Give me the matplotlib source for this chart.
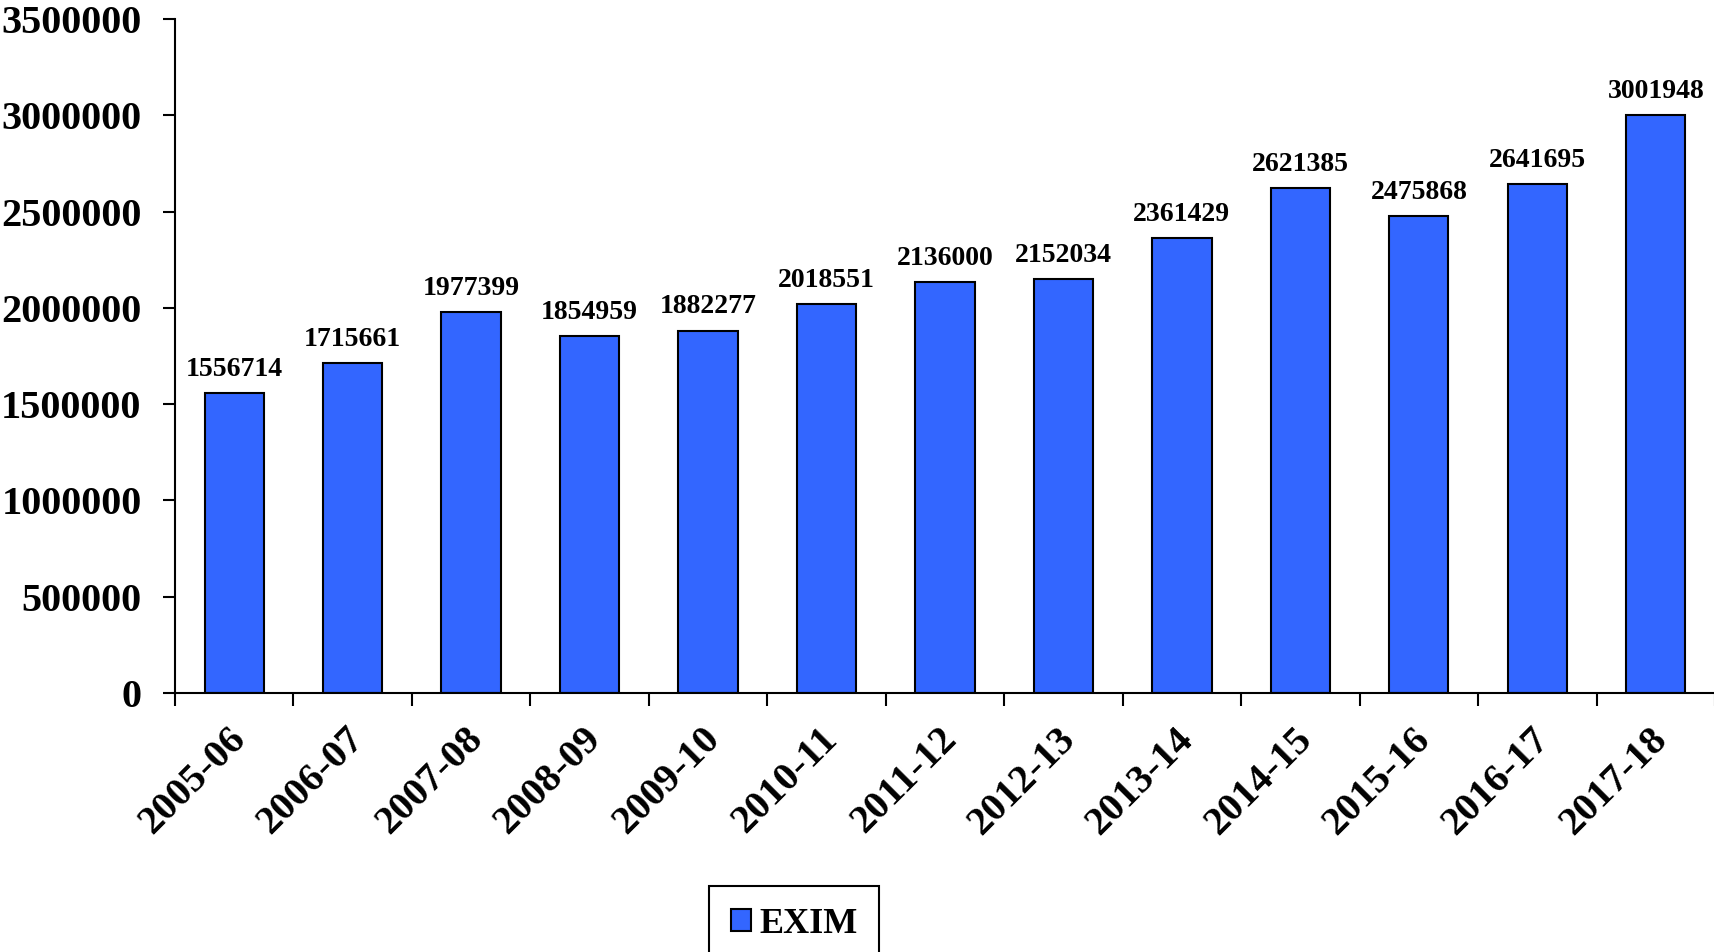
import matplotlib.pyplot as plt
import numpy as np

years = ["2005-06", "2006-07", "2007-08", "2008-09", "2009-10", "2010-11", "2011-12",
         "2012-13", "2013-14", "2014-15", "2015-16", "2016-17", "2017-18"]
exim = [1556714, 1715661, 1977399, 1854959, 1882277, 2018551, 2136000,
        2152034, 2361429, 2621385, 2475868, 2641695, 3001948]

plt.rcParams['font.family'] = ['Liberation Serif', 'DejaVu Serif']
plt.rcParams['font.weight'] = 'bold'

fig = plt.figure(figsize=(17.15, 9.52), dpi=100)
ax = fig.add_axes([0.102, 0.272, 0.898, 0.708])

x = np.arange(len(years))
bars = ax.bar(x, exim, width=0.5, color="#3366FF", edgecolor="black", linewidth=1.5, label="EXIM")

for xi, v in zip(x, exim):
    ax.annotate(str(v), (xi, v), xytext=(0, 8), textcoords="offset points",
                ha="center", va="bottom", fontsize=20, fontweight="bold")

ax.set_xlim(-0.5, len(years) - 0.5)
ax.set_ylim(0, 3500000)
ax.set_yticks(np.arange(0, 3500001, 500000))
ax.set_yticklabels([str(t) for t in range(0, 3500001, 500000)], fontsize=29, fontweight="bold")

# ticks sit on category boundaries, labels near centres (nudged left like the original)
ax.set_xticks(np.append(x - 0.5, len(years) - 0.5))
ax.set_xticklabels([])
ax.set_xticks(x - 0.06, minor=True)
ax.set_xticklabels(years, minor=True, rotation=45, ha="right", va="top",
                   rotation_mode="anchor", fontsize=29, fontweight="bold")
ax.tick_params(axis="x", which="minor", length=0, pad=20)
ax.tick_params(axis="x", which="major", length=9, width=1.5, direction="out")
ax.tick_params(axis="y", length=9, width=1.5, direction="out", pad=15)

for s in ["top", "right"]:
    ax.spines[s].set_visible(False)
for s in ["left", "bottom"]:
    ax.spines[s].set_linewidth(1.5)

leg = fig.legend(handles=[bars], labels=["EXIM"], loc="upper left",
                 bbox_to_anchor=(709 / 1715, 1 - 886 / 952), fancybox=False,
                 edgecolor="black", framealpha=1, prop={"size": 26, "weight": "bold"},
                 handlelength=0.55, handleheight=0.55, handletextpad=0.25,
                 borderpad=0.6, borderaxespad=0)
leg.get_frame().set_linewidth(1.5)

fig.savefig("out.png", dpi=100)
